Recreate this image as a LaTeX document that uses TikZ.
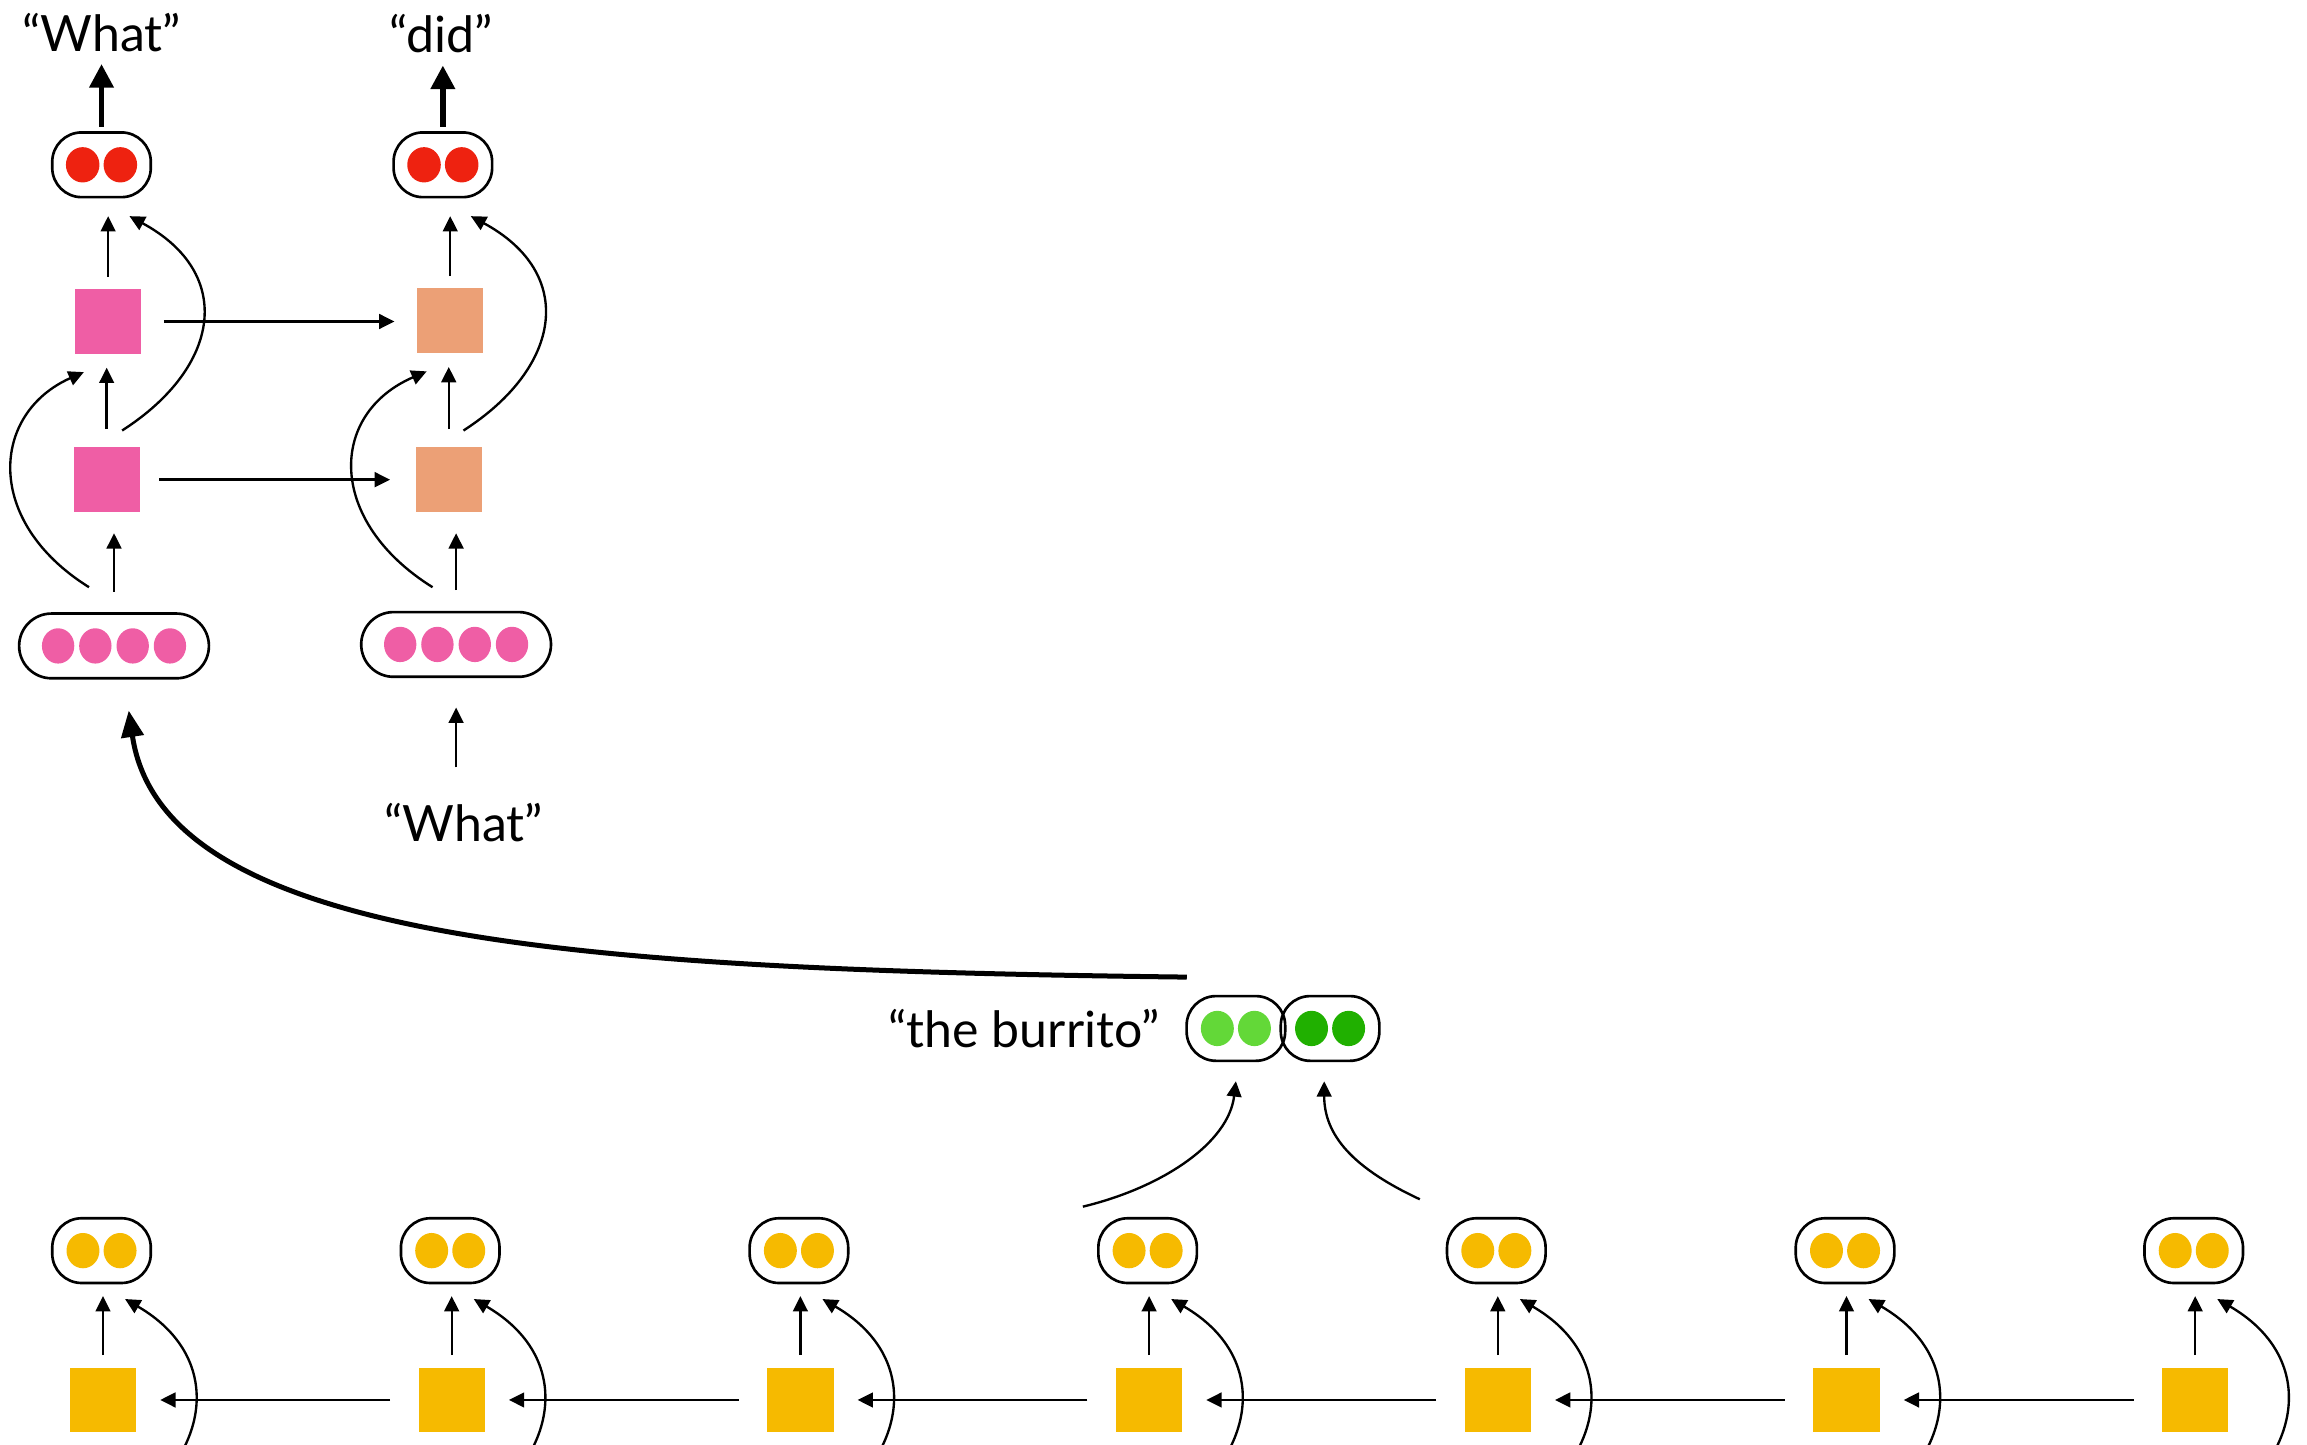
\documentclass[tikz,border=0pt]{standalone}
\usepackage{fontspec}
\setmainfont{Lato}
\usetikzlibrary{arrows.meta,calc}
\definecolor{cred}{RGB}{238,34,16}
\definecolor{cpink}{RGB}{239,94,165}
\definecolor{corange}{RGB}{236,160,118}
\definecolor{cyellow}{RGB}{246,186,0}
\definecolor{clgreen}{RGB}{99,216,56}
\definecolor{cdgreen}{RGB}{32,176,0}
\begin{document}
\begin{tikzpicture}[x=0.5pt,y=-0.5pt,
  box/.style={draw,line width=0.9pt,rounded corners=10pt,minimum width=33.5pt,minimum height=22pt,inner sep=0pt},
  longbox/.style={draw,line width=0.9pt,rounded corners=11pt,minimum width=64.5pt,minimum height=22pt,inner sep=0pt},
  sq/.style={minimum width=22.5pt,minimum height=22pt,inner sep=0pt},
  lbl/.style={font=\fontsize{17}{20}\selectfont,inner sep=0pt},
  thinarr/.style={line width=0.8pt,-{Triangle[length=5.2pt,width=5pt]}},
  thickarr/.style={line width=1.8pt,-{Triangle[length=8pt,width=8pt]}},
  bigarr/.style={line width=1.7pt,-{Triangle[length=9pt,width=7.5pt]}},
]
\useasboundingbox (0,0) rectangle (1568,982);
\clip (0,0) rectangle (1568,982);

% ---------- top decoder ----------
\node[lbl] (lw) at (69,22) {“What”};
\node[lbl] (ld) at (300,23) {“did”};
\node[box] (r1) at (69,112) {};
\node[box] (r2) at (301,112) {};
\node[sq,fill=cpink] (p2) at (73.5,218.5) {};
\node[sq,fill=cpink] (p1) at (72.5,326) {};
\node[sq,fill=corange] (o2) at (306,218) {};
\node[sq,fill=corange] (o1) at (305,326) {};
\node[longbox] (e1) at (77.5,439) {};
\node[longbox] (e2) at (310,438) {};
\node[lbl] (lw2) at (315,559) {“What”};

\foreach \n in {r1,r2}{
  \fill[cred] ([xshift=-6.4pt]\n.center) ellipse (5.7pt and 6pt);
  \fill[cred] ([xshift=6.4pt]\n.center) ellipse (5.7pt and 6pt);
}
\foreach \n in {e1,e2}{
  \foreach \d in {-19,-6.35,6.35,19}{
    \fill[cpink] ([xshift=\d pt]\n.center) ellipse (5.5pt and 6pt);
  }
}

\draw[thickarr,shorten <=1.5pt,shorten >=4pt] (r1.north) -- (r1.north |- lw.south);
\draw[thickarr,shorten <=1.5pt,shorten >=4pt] (r2.north) -- (r2.north |- ld.south);

\draw[thinarr,shorten <=4pt,shorten >=6pt] (p2.north) -- (p2.north |- r1.south);
\draw[thinarr,shorten <=4pt,shorten >=6pt] (o2.north) -- (o2.north |- r2.south);
\draw[thinarr,shorten <=6pt,shorten >=4.5pt] (p1.north) -- (p1.north |- p2.south);
\draw[thinarr,shorten <=6pt,shorten >=4.5pt] (o1.north) -- (o1.north |- o2.south);
\draw[thinarr,shorten <=7pt,shorten >=7pt] (e1.north) -- (e1.north |- p1.south);
\draw[thinarr,shorten <=7pt,shorten >=7pt] (e2.north) -- (e2.north |- o1.south);
\draw[thinarr,shorten <=12pt,shorten >=10pt] (lw2.north -| e2.south) -- (e2.south);

\draw[thinarr,shorten <=7.5pt,shorten >=7.5pt] (p2.east) -- (p2.east -| o2.west);
\draw[thinarr,shorten <=6.5pt,shorten >=8.5pt] (p1.east) -- (p1.east -| o1.west);

% skip connections
\draw[thinarr] ($(p1.north)+(10.5,-11)$) .. controls +(67,-43) and +(72,39) .. ($(r1.south)+(19,12)$);
\draw[thinarr] ($(o1.north)+(10,-11)$) .. controls +(67,-43) and +(72,39) .. ($(r2.south)+(19,12)$);
\draw[thinarr] ($(e1.north)+(-17,-17)$) .. controls +(-72,-45) and +(-63,28) .. ($(p2.south)+(-16.5,12)$);
\draw[thinarr] ($(e2.north)+(-16,-16)$) .. controls +(-72,-45) and +(-67,29) .. ($(o2.south)+(-16,12)$);

% ---------- middle ----------
\node[lbl] (lb) at (696,699) {“the burrito”};
\node[box] (g1) at (840,699) {};
\node[box] (g2) at (904,699) {};
\fill[clgreen] ([xshift=-6.3pt]g1.center) ellipse (5.6pt and 6pt);
\fill[clgreen] ([xshift=6.3pt]g1.center) ellipse (5.6pt and 6pt);
\fill[cdgreen] ([xshift=-6.3pt]g2.center) ellipse (5.6pt and 6pt);
\fill[cdgreen] ([xshift=6.3pt]g2.center) ellipse (5.6pt and 6pt);

\coordinate (bs) at ($(g1.north west)+(1,-12)$);
\draw[bigarr] (bs) .. controls +(-408,-5) and +(23,158) .. ($(e1.south)+(10,21)$);

% ---------- bottom encoder ----------
\foreach \i in {0,...,6}{
  \pgfmathsetmacro\cx{69+237*\i}
  \node[box] (y\i) at (\cx,850) {};
  \node[sq,fill=cyellow] (s\i) at (\cx+1,951.5) {};
  \fill[cyellow] ([xshift=-6.3pt]y\i.center) ellipse (5.6pt and 6pt);
  \fill[cyellow] ([xshift=6.3pt]y\i.center) ellipse (5.6pt and 6pt);
  \draw[thinarr,shorten <=4pt,shorten >=4pt] (s\i.north) -- (s\i.north |- y\i.south);
  \draw[thinarr] ($(y\i.south)+(14,157)$) .. controls +(62,-43) and +(67,39) .. ($(y\i.south)+(16,10)$);
}
\foreach \i [evaluate=\i as \j using int(\i+1)] in {0,...,5}{
  \draw[thinarr,shorten <=9.5pt,shorten >=8pt] (s\j.west) -- (s\i.east);
}

\draw[thinarr] ($(y3.north)+(-44,-7)$) .. controls +(54,-13) and +(-5,42) .. ($(g1.south)+(0,13)$);
\draw[thinarr] ($(y4.north)+(-52,-12)$) .. controls +(-45,-21) and +(0,37) .. ($(g2.south)+(-4,13)$);
\end{tikzpicture}
\end{document}
